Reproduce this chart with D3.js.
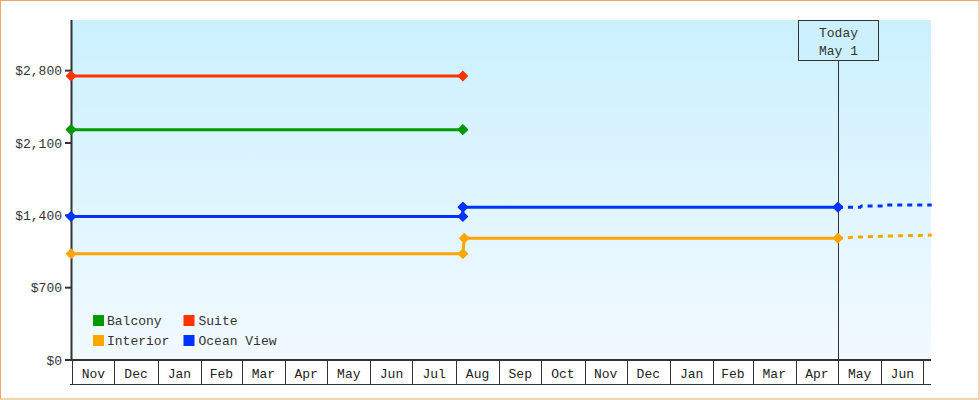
<!DOCTYPE html>
<html><head><meta charset="utf-8">
<script src="https://cdn.jsdelivr.net/npm/d3@7/dist/d3.min.js"></script>
<style>
html,body{margin:0;padding:0;background:#fff;}
svg{display:block;}
text{font-family:"Liberation Mono","DejaVu Sans Mono",monospace;font-size:13px;fill:#333;}
</style></head>
<body>
<svg id="chart" width="980" height="400"></svg>
<script>
// ---- data ----
const seriesNames = ["Balcony", "Suite", "Interior", "Ocean View"];
const seriesColors = ["#009900", "#ff3300", "#ffa500", "#0033ff"];

const balconyDates = ["2023-10-31", "2024-08-06"];
const balconyPrices = [2229, 2229];

const suiteDates = ["2023-10-31", "2024-08-06"];
const suitePrices = [2749, 2749];

const interiorDates = ["2023-10-31", "2024-08-06", "2024-08-07", "2025-05-01"];
const interiorPrices = [1029, 1029, 1179, 1179];
const interiorForecastDates = ["2025-05-01", "2025-05-15", "2025-06-05", "2025-07-07"];
const interiorForecastPrices = [1179, 1189, 1199, 1209];

const oceanDates = ["2023-10-31", "2024-08-06", "2024-08-06", "2025-05-01"];
const oceanPrices = [1389, 1389, 1479, 1479];
const oceanForecastDates = ["2025-05-01", "2025-05-17", "2025-05-18", "2025-06-02", "2025-06-03", "2025-07-07"];
const oceanForecastPrices = [1479, 1479, 1489, 1489, 1499, 1499];

const yTicks = [0, 700, 1400, 2100, 2800];
const todayDate = "2025-05-01";
const todayLabel = ["Today", "May 1"];
const xStart = "2023-10-31";
const xEnd = "2025-07-06T12:00";
const yMax = 3290;

// ---- setup ----
const parse = s => new Date(s.length > 10 ? s : s + "T00:00");
const svg = d3.select("#chart");
const L = 71, R = 931, T = 20, B = 360;

const x = d3.scaleTime().domain([parse(xStart), parse(xEnd)]).range([L, R]);
const y = d3.scaleLinear().domain([0, yMax]).range([B, T]);

// gradient background
const defs = svg.append("defs");
const grad = defs.append("linearGradient").attr("id", "bg").attr("x1", 0).attr("y1", 0).attr("x2", 0).attr("y2", 1);
grad.append("stop").attr("offset", "0%").attr("stop-color", "#cbf0fe");
grad.append("stop").attr("offset", "100%").attr("stop-color", "#f2faff");

// outer border
svg.append("rect").attr("x", 0.5).attr("y", 0.5).attr("width", 978.5).attr("height", 398.5)
  .attr("fill", "#fff").attr("stroke", "#eba964").attr("stroke-width", 1);

svg.append("rect").attr("x", 71).attr("y", T).attr("width", R - 71).attr("height", B - T).attr("fill", "url(#bg)");

// x axis month boxes
const firstMonth = d3.timeMonth.ceil(parse(xStart));
const bounds = d3.timeMonth.range(firstMonth, parse(xEnd));
const monthFmt = d3.timeFormat("%b");
const xa = svg.append("g");
xa.append("line").attr("x1", 65).attr("x2", R).attr("y1", B).attr("y2", B).attr("stroke", "#333").attr("stroke-width", 2);
xa.append("line").attr("x1", 70).attr("x2", R).attr("y1", 384.5).attr("y2", 384.5).attr("stroke", "#333").attr("stroke-width", 1);
bounds.forEach(d => {
  const px = Math.round(x(d)) + 0.5;
  xa.append("line").attr("x1", px).attr("x2", px).attr("y1", B).attr("y2", 384.5).attr("stroke", "#333").attr("stroke-width", 1);
});
bounds.forEach(d => {
  const next = d3.timeMonth.offset(d, 1);
  if (x(next) > R) return;
  xa.append("text").attr("x", (x(d) + x(next)) / 2).attr("y", 378)
    .attr("text-anchor", "middle").style("fill", "#222").text(monthFmt(d));
});

// y axis
const ya = svg.append("g");
ya.append("line").attr("x1", 71.5).attr("x2", 71.5).attr("y1", T).attr("y2", B + 1).attr("stroke", "#333").attr("stroke-width", 2);
yTicks.forEach(v => {
  ya.append("line").attr("x1", 65).attr("x2", 71).attr("y1", y(v)).attr("y2", y(v)).attr("stroke", "#333").attr("stroke-width", 2);
  ya.append("text").attr("x", 62).attr("y", y(v)).attr("dy", "0.35em").attr("text-anchor", "end")
    .text("$" + d3.format(",")(v));
});

// today marker
const tx = Math.round(x(parse(todayDate))) + 0.5;
svg.append("line").attr("x1", tx).attr("x2", tx).attr("y1", 60).attr("y2", B).attr("stroke", "#333").attr("stroke-width", 1);
svg.append("rect").attr("x", tx - 40).attr("y", 20.5).attr("width", 80).attr("height", 40)
  .attr("fill", "#cdf0fe").attr("stroke", "#333").attr("stroke-width", 1);
svg.append("text").attr("x", tx).attr("y", 37).attr("text-anchor", "middle").text(todayLabel[0]);
svg.append("text").attr("x", tx).attr("y", 55).attr("text-anchor", "middle").text(todayLabel[1]);

// series
const line = d3.line().x(d => x(d[0])).y(d => y(d[1]));
const zip = (ds, vs) => ds.map((d, i) => [parse(d), vs[i]]);
const series = [
  { name: "Balcony", pts: zip(balconyDates, balconyPrices), fc: null },
  { name: "Suite", pts: zip(suiteDates, suitePrices), fc: null },
  { name: "Interior", pts: zip(interiorDates, interiorPrices), fc: zip(interiorForecastDates, interiorForecastPrices) },
  { name: "Ocean View", pts: zip(oceanDates, oceanPrices), fc: zip(oceanForecastDates, oceanForecastPrices) }
];
const color = d3.scaleOrdinal().domain(seriesNames).range(seriesColors);
const diamond = "M0,-4.5L4.5,0L0,4.5L-4.5,0Z";

series.forEach(s => {
  const c = color(s.name);
  const g = svg.append("g");
  if (s.fc) {
    g.append("path").attr("d", line(s.fc)).attr("fill", "none").attr("stroke", c)
      .attr("stroke-width", 3).attr("stroke-dasharray", "5,5");
  }
  g.append("path").attr("d", line(s.pts)).attr("fill", "none").attr("stroke", c).attr("stroke-width", 3);
  g.selectAll("path.m").data(s.pts).enter().append("path").attr("class", "m")
    .attr("d", diamond).attr("transform", d => `translate(${x(d[0])},${y(d[1])})`)
    .attr("fill", c).attr("stroke", c).attr("stroke-width", 1.5).attr("stroke-linejoin", "round");
});

// legend
const legendOrder = ["Balcony", "Suite", "Interior", "Ocean View"];
legendOrder.forEach((n, i) => {
  const col = i % 2, row = Math.floor(i / 2);
  const lx = 93 + col * 90.5, ly = 315 + row * 20;
  svg.append("rect").attr("x", lx).attr("y", ly).attr("width", 11).attr("height", 11).attr("fill", color(n));
  svg.append("text").attr("x", lx + 14 + col).attr("y", ly + 10).text(n);
});
</script>
</body></html>
